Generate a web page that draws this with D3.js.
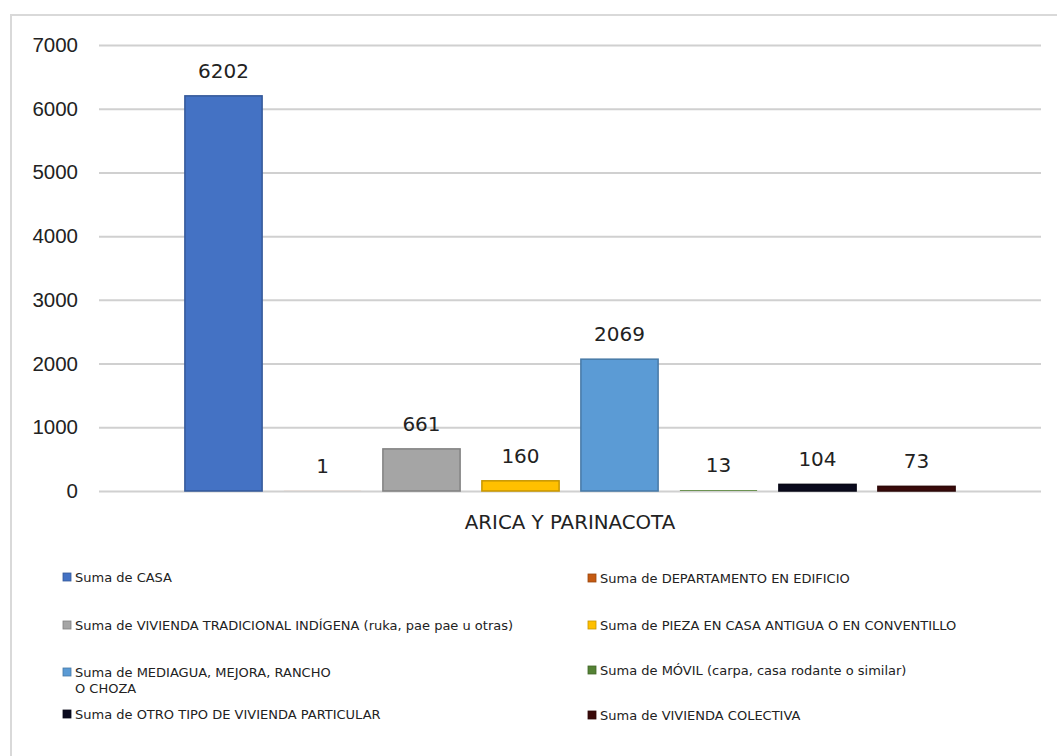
<!DOCTYPE html>
<html>
<head>
<meta charset="utf-8">
<script src="https://cdn.jsdelivr.net/npm/d3@7/dist/d3.min.js"></script>
<style>
  body { margin: 0; background: #fff; }
  svg { display: block; font-family: "DejaVu Sans", "Open Sans", sans-serif; }
</style>
</head>
<body>
<script>
// data
var categories = ["ARICA Y PARINACOTA"]
var series = [
  "Suma de CASA",
  "Suma de DEPARTAMENTO EN EDIFICIO",
  "Suma de VIVIENDA TRADICIONAL INDÍGENA (ruka, pae pae u otras)",
  "Suma de PIEZA EN CASA ANTIGUA O EN CONVENTILLO",
  "Suma de MEDIAGUA, MEJORA, RANCHO\nO CHOZA",
  "Suma de MÓVIL (carpa, casa rodante o similar)",
  "Suma de OTRO TIPO DE VIVIENDA PARTICULAR",
  "Suma de VIVIENDA COLECTIVA"
]
var values = [6202, 1, 661, 160, 2069, 13, 104, 73]
var colors = ["#4472C4", "#C55A11", "#A5A5A5", "#FFC000", "#5B9BD5", "#548235", "#0A0A1E", "#3A0A0A"]
var yTicks = [0, 1000, 2000, 3000, 4000, 5000, 6000, 7000]

var width = 1057, height = 756
var plot = {left: 99, right: 1041, top: 45, bottom: 491}

var svg = d3.select("body").append("svg")
  .attr("width", width)
  .attr("height", height)

// chart frame
svg.append("rect")
  .attr("x", 11).attr("y", 15)
  .attr("width", width).attr("height", height)
  .attr("fill", "#fff")
  .attr("stroke", "#d9d9d9")
  .attr("stroke-width", 2)

var y = d3.scaleLinear().domain([0, 7000]).range([plot.bottom, plot.top])

var x0 = d3.scaleBand().domain(categories)
  .range([plot.left, plot.right])
  .paddingOuter(0.0947)

var x1 = d3.scaleBand().domain(d3.range(series.length))
  .range([0, x0.bandwidth()])
  .paddingInner(0.22)
  .paddingOuter(0.11)

// gridlines
var yAxis = d3.axisLeft(y).tickValues(yTicks)
  .tickSize(-(plot.right - plot.left))
  .tickPadding(21)
  .tickFormat(d3.format("d"))

var ga = svg.append("g")
  .attr("transform", "translate(" + plot.left + ",0)")
  .call(yAxis)
ga.select(".domain").remove()
ga.selectAll(".tick line").attr("stroke", "#d0d0d0").attr("stroke-width", 2)
ga.selectAll(".tick text")
  .attr("fill", "#222")
  .style("font-size", "20.5px")

// bars
var g = svg.append("g").selectAll("g")
  .data(categories)
  .join("g")
  .attr("transform", function(d) { return "translate(" + x0(d) + ",0)" })

var barData = values.map(function(v, i) { return {v: v, i: i} })

g.selectAll("rect")
  .data(barData)
  .join("rect")
  .attr("x", function(d) { return x1(d.i) })
  .attr("width", x1.bandwidth())
  .attr("y", function(d) { return y(d.v) })
  .attr("height", function(d) { return plot.bottom - y(d.v) })
  .attr("fill", function(d) { return colors[d.i] })
  .attr("stroke", function(d) { return plot.bottom - y(d.v) > 3 ? d3.color(colors[d.i]).darker(0.7) : "none" })
  .attr("stroke-width", 1.5)

g.selectAll("text.val")
  .data(barData)
  .join("text")
  .attr("class", "val")
  .attr("x", function(d) { return x1(d.i) + x1.bandwidth() / 2 })
  .attr("y", function(d) { return y(d.v) - 18 })
  .attr("text-anchor", "middle")
  .attr("fill", "#222")
  .style("font-size", "20px")
  .text(function(d) { return d.v })

// category label
svg.selectAll("text.cat")
  .data(categories)
  .join("text")
  .attr("class", "cat")
  .attr("x", function(d) { return x0(d) + x0.bandwidth() / 2 })
  .attr("y", 529)
  .attr("text-anchor", "middle")
  .attr("fill", "#222")
  .style("font-size", "19.8px")
  .text(function(d) { return d })

// legend, two columns
var legX = [63, 588]
var legY = [577, 578, 625, 625, 672, 670, 714, 715]

var leg = svg.append("g").selectAll("g")
  .data(series)
  .join("g")
  .attr("transform", function(d, i) { return "translate(" + legX[i % 2] + "," + legY[i] + ")" })

leg.append("rect")
  .attr("x", 0).attr("y", -4)
  .attr("width", 8).attr("height", 8)
  .attr("fill", function(d, i) { return colors[i] })
  .attr("stroke", function(d, i) { return d3.color(colors[i]).darker(0.7) })
  .attr("stroke-width", 0.8)

leg.append("text")
  .attr("x", 12)
  .attr("y", 4.5)
  .attr("fill", "#222")
  .style("font-size", "13px")
  .selectAll("tspan")
  .data(function(d) { return d.split("\n") })
  .join("tspan")
  .attr("x", 12)
  .attr("dy", function(d, i) { return i === 0 ? 0 : 16 })
  .text(function(d) { return d })
</script>
</body>
</html>
